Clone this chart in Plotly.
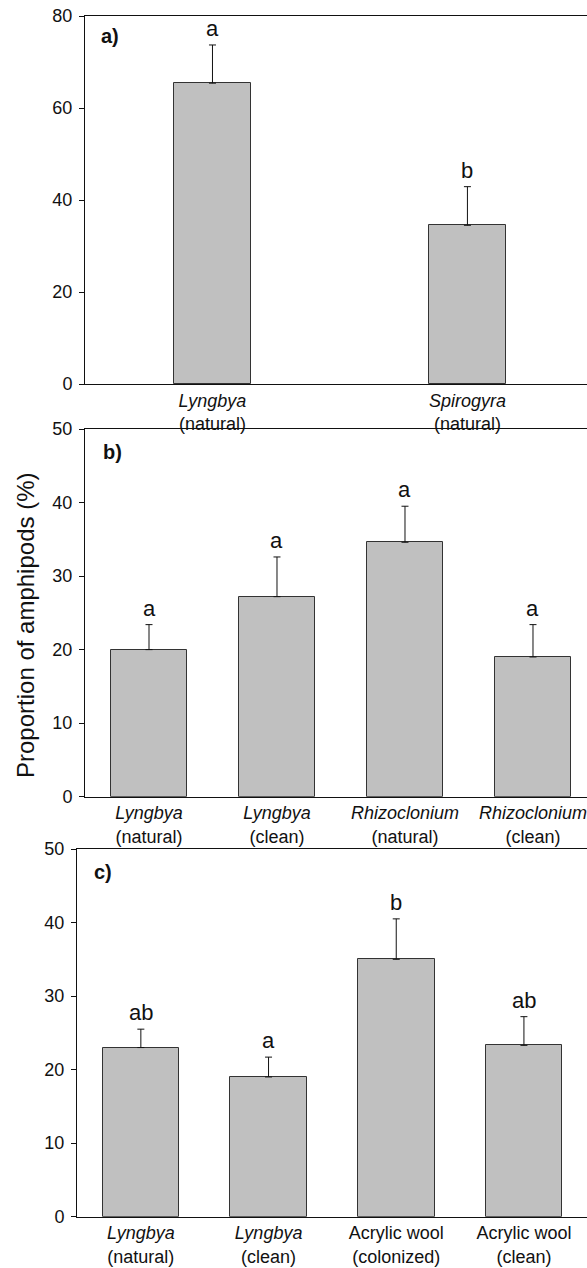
import plotly.graph_objects as go

# Panel a) natural algae
cats_a = ["<i>Lyngbya</i><br>(natural)", "<i>Spirogyra</i><br>(natural)"]
mean_a = [65.4, 34.5]
se_a = [8.3, 8.4]
letters_a = ["a", "b"]

# Panel b) natural vs. cleaned algae
cats_b = ["<i>Lyngbya</i><br>(natural)", "<i>Lyngbya</i><br>(clean)",
          "<i>Rhizoclonium</i><br>(natural)", "<i>Rhizoclonium</i><br>(clean)"]
mean_b = [20.0, 27.2, 34.6, 19.0]
se_b = [3.4, 5.4, 4.9, 4.4]
letters_b = ["a", "a", "a", "a"]

# Panel c) algae vs. artificial substrate
cats_c = ["<i>Lyngbya</i><br>(natural)", "<i>Lyngbya</i><br>(clean)",
          "Acrylic wool<br>(colonized)", "Acrylic wool<br>(clean)"]
mean_c = [23.0, 19.0, 35.0, 23.3]
se_c = [2.5, 2.7, 5.5, 3.9]
letters_c = ["ab", "a", "b", "ab"]

W, H = 587, 1268
FONT = "Arial, Liberation Sans, sans-serif"
BAR_FILL = "#c0c0c0"
BAR_EDGE = "#333333"


def px_x(p):
    return p / W


def px_y(p):
    return 1 - p / H


panels = [
    # (cats, means, se, letters, bar width, x domain, x range, y domain, y max, dtick)
    (cats_a, mean_a, se_a, letters_a, 0.30, [px_x(85), 1.0], [-0.5, 1.469],
     [px_y(384), px_y(16)], 80, 20),
    (cats_b, mean_b, se_b, letters_b, 0.60, [px_x(85), 1.0], [-0.5, 3.422],
     [px_y(796.7), px_y(429)], 50, 10),
    (cats_c, mean_c, se_c, letters_c, 0.60, [px_x(77), px_x(586.5)], [-0.5, 3.49],
     [px_y(1216.7), px_y(849)], 50, 10),
]

fig = go.Figure()
annotations = []
layout = {}

for k, (cats, means, se, letters, bw, xdom, xr, ydom, ymax, dt) in enumerate(panels):
    sfx = "" if k == 0 else str(k + 1)
    xs = list(range(len(cats)))
    fig.add_trace(go.Bar(
        x=xs, y=means, width=bw,
        marker=dict(color=BAR_FILL, line=dict(color=BAR_EDGE, width=1)),
        error_y=dict(type="data", array=se, arrayminus=[0] * len(se),
                     symmetric=False, color="#111111", thickness=1, width=3.5),
        xaxis="x" + sfx, yaxis="y" + sfx, showlegend=False,
    ))
    layout["xaxis" + sfx] = dict(
        domain=xdom, range=xr, anchor="y" + sfx, automargin=False,
        tickmode="array", tickvals=xs, ticktext=cats,
        ticks="", showgrid=False, zeroline=False,
        ticklabeloverflow="allow",
        showline=True, linecolor="#111111", linewidth=1,
        mirror=True if k < 2 else "all",
        tickfont=dict(family=FONT, size=18, color="#111111"),
        fixedrange=True,
    )
    layout["yaxis" + sfx] = dict(
        domain=ydom, range=[0, ymax], anchor="x" + sfx, automargin=False,
        tickmode="linear", tick0=0, dtick=dt,
        ticks="outside", ticklen=5, tickcolor="#111111", tickwidth=1,
        ticklabelstandoff=3, ticklabeloverflow="allow",
        showgrid=False, zeroline=False,
        showline=True, linecolor="#111111", linewidth=1,
        mirror=(k == 2),
        tickfont=dict(family=FONT, size=18, color="#111111"),
        fixedrange=True,
    )
    for i, (m, e, t) in enumerate(zip(means, se, letters)):
        annotations.append(dict(
            x=i, y=m + e, xref="x" + sfx, yref="y" + sfx,
            text=t, showarrow=False, yanchor="bottom", yshift=2,
            font=dict(family=FONT, size=22, color="#111111"),
        ))

# panel letters
for lab, xp, yp in [("a)", 99, 36), ("b)", 101, 452), ("c)", 92, 872)]:
    annotations.append(dict(
        x=px_x(xp), y=px_y(yp), xref="paper", yref="paper",
        text="<b>%s</b>" % lab, showarrow=False,
        xanchor="left", yanchor="middle",
        font=dict(family=FONT, size=20, color="#111111"),
    ))

# shared y-axis title
annotations.append(dict(
    x=px_x(25), y=px_y(626), xref="paper", yref="paper",
    text="Proportion of amphipods (%)", showarrow=False, textangle=-90,
    xanchor="center", yanchor="middle",
    font=dict(family=FONT, size=24, color="#111111"),
))

fig.update_layout(
    width=W, height=H,
    margin=dict(l=0, r=0, t=0, b=0, autoexpand=False),
    paper_bgcolor="white", plot_bgcolor="white",
    bargap=0, annotations=annotations,
    **layout,
)

fig.write_html("out.html", config={"displayModeBar": False})
